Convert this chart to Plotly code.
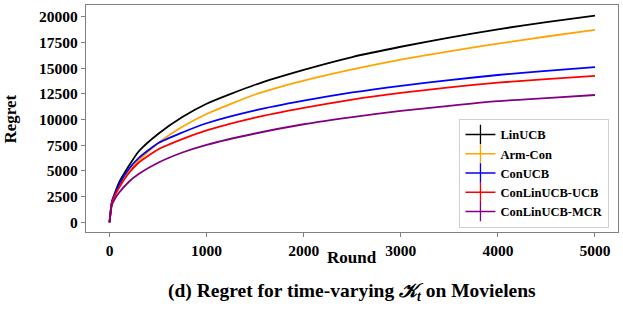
import plotly.graph_objects as go

rounds = [0, 25, 50, 100, 200, 300, 500, 750, 1000, 1500, 2000, 2500, 3000, 3500, 4000, 4500, 5000]
linucb = [0, 2000, 2700, 3900, 5500, 6900, 8600, 10250, 11550, 13400, 14850, 16100, 17100, 18000, 18800, 19500, 20130]
arm_con = [0, 1900, 2500, 3400, 4900, 6000, 7700, 9300, 10550, 12450, 13800, 14900, 15850, 16650, 17400, 18100, 18750]
conucb = [0, 2000, 2650, 3700, 5200, 6250, 7700, 8750, 9650, 10900, 11850, 12650, 13300, 13850, 14350, 14750, 15120]
conlin_ucb = [0, 1900, 2500, 3400, 4800, 5800, 7100, 8100, 8950, 10200, 11150, 11950, 12600, 13150, 13600, 13950, 14260]
conlin_mcr = [0, 1700, 2200, 2900, 3950, 4700, 5800, 6800, 7550, 8650, 9550, 10250, 10850, 11350, 11800, 12100, 12400]

series = [
    ("LinUCB", linucb, "#000000"),
    ("Arm-Con", arm_con, "#FFA500"),
    ("ConUCB", conucb, "#0000FF"),
    ("ConLinUCB-UCB", conlin_ucb, "#FF0000"),
    ("ConLinUCB-MCR", conlin_mcr, "#800080"),
]
y_ticks = [0, 2500, 5000, 7500, 10000, 12500, 15000, 17500, 20000]
x_ticks = [0, 1000, 2000, 3000, 4000, 5000]

FONT = "Liberation Serif"

fig = go.Figure()
for name, vals, color in series:
    fig.add_trace(go.Scatter(
        x=rounds, y=vals, name=name, mode="lines", legendgroup=name, showlegend=False,
        line=dict(color=color, width=1.8, shape="spline", smoothing=0.6),
    ))
    # legend entry: line with vertical error-bar tick
    fig.add_trace(go.Scatter(
        x=[None], y=[None], name=name, mode="lines+markers", legendgroup=name,
        line=dict(color=color, width=1.5),
        marker=dict(symbol="line-ns", size=14, color=color, line=dict(color=color, width=1.3)),
    ))

axis_common = dict(
    showline=True, mirror=True, linecolor="#808080", linewidth=1.2, automargin=False,
    ticks="outside", ticklen=4, tickcolor="#808080", showgrid=False, zeroline=False,
    tickfont=dict(family=FONT, size=15.5, color="black", weight="bold"),
)

fig.update_layout(
    width=623, height=312,
    margin=dict(l=86, r=5, t=5, b=80),
    paper_bgcolor="white", plot_bgcolor="white",
    font=dict(family=FONT, color="black"),
    xaxis=dict(range=[-242, 5237], tickvals=x_ticks, ticktext=[str(v) for v in x_ticks],
               **axis_common),
    yaxis=dict(range=[-944, 21167], tickvals=y_ticks, ticktext=[str(v) for v in y_ticks],
               **axis_common),
    legend=dict(x=0.702, y=0.018, xanchor="left", yanchor="bottom",
                bgcolor="rgba(255,255,255,0.9)", bordercolor="#d0d0d0", borderwidth=1,
                font=dict(family=FONT, size=12.5, color="black", weight="bold"),
                tracegroupgap=0),
    showlegend=True,
)

# axis titles
fig.add_annotation(
    text="<b>Round</b>", xref="paper", yref="paper", x=0.5, y=-0.114,
    xanchor="center", yanchor="middle", showarrow=False,
    font=dict(family=FONT, size=17, color="black"),
)
fig.add_annotation(
    text="<b>Regret</b>", xref="paper", yref="paper", x=-0.141, y=0.5,
    xanchor="center", yanchor="middle", showarrow=False, textangle=-90,
    font=dict(family=FONT, size=17, color="black"),
)
fig.add_annotation(
    text="<b>(d) Regret for time-varying <i>𝒦</i><sub><i>t</i></sub> on Movielens</b>",
    xref="paper", yref="paper", x=0.5, y=-0.264, xanchor="center", yanchor="middle",
    showarrow=False, font=dict(family=FONT, size=19.5, color="black"),
)

fig.write_html("out.html", config={"displayModeBar": False},
               post_script="document.body.style.margin='0';")
